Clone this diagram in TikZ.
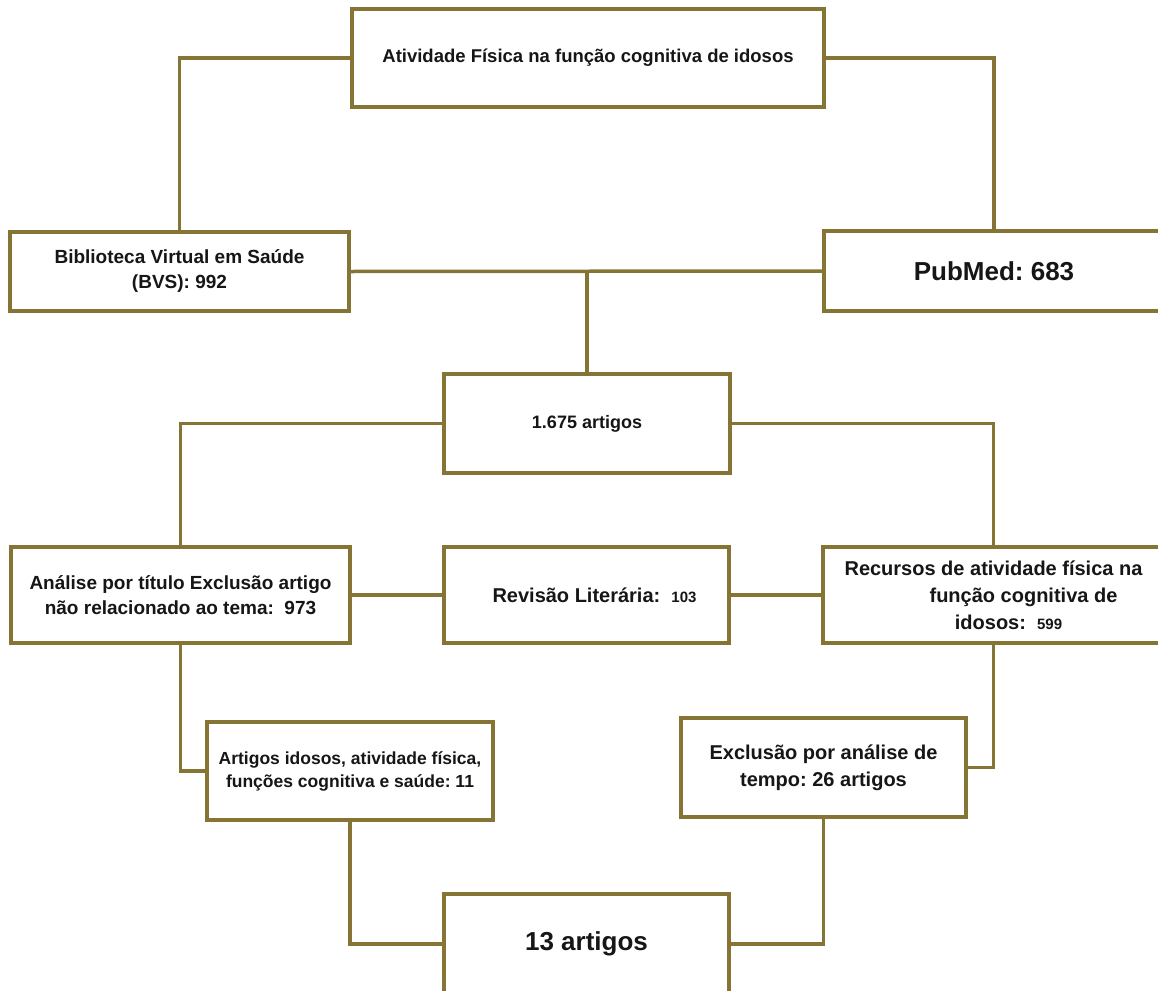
\documentclass[tikz,border=0pt]{standalone}
\usepackage{fontspec}
\setmainfont{Liberation Sans}
\usetikzlibrary{positioning,calc}
\definecolor{borda}{RGB}{134,116,52}
\definecolor{texto}{RGB}{22,22,22}
\frenchspacing

\begin{document}
\begin{tikzpicture}
    [
    x=1pt, y=-1pt,
    caixa/.style={
      draw=borda, line width=3.5pt, fill=white,
      inner sep=0pt, align=center, text=texto,
      font=\bfseries\fontsize{19}{25}\selectfont
      },
    ligacao/.style={
      draw=borda, line width=3.5pt
      }
    ]
    \def\menor{\fontsize{15}{15}\selectfont}
    \useasboundingbox (0,0) rectangle (1158,990);
    \clip (0,0) rectangle (1158,990);

    % First, the search and the two databases
    \node[caixa, minimum width=472pt, minimum height=98pt,
          font=\bfseries\fontsize{18.5}{24}\selectfont] (tema) at (588,58)
         {Atividade Física na função cognitiva de idosos};
    \node[caixa, minimum width=339pt, minimum height=79pt] (bvs) at (179.5,271.5)
         {Biblioteca Virtual em Saúde\\(BVS): 992};
    \node[caixa, minimum width=340pt, minimum height=80pt,
          font=\bfseries\fontsize{26}{30}\selectfont] (pubmed) at (994,271)
         {PubMed: 683};

    % Then the screening row
    \node[caixa, minimum width=286pt, minimum height=99pt,
          font=\bfseries\fontsize{18}{24}\selectfont] (total) at (587,423.5)
         {1.675 artigos};
    \node[caixa, minimum width=339pt, minimum height=96pt] (analise) at (180.5,595)
         {Análise por título Exclusão artigo\\não relacionado ao tema: \ 973};
    \node[caixa, minimum width=285pt, minimum height=96pt,
          font=\bfseries\fontsize{20}{27}\selectfont] (revisao) at (586.5,595)
         {\hspace*{16pt}Revisão Literária: \ {\menor 103}};
    \node[caixa, minimum width=341pt, minimum height=96pt,
          font=\bfseries\fontsize{20}{27}\selectfont] (recursos) at (993.5,595)
         {Recursos de atividade física na\\
          \hspace*{60pt}função cognitiva de\\
          \hspace*{30pt}idosos: \ {\menor 599}};

    % Last, the selected articles
    \node[caixa, minimum width=286pt, minimum height=98pt,
          font=\bfseries\fontsize{17.5}{23}\selectfont] (artigos) at (350,771)
         {Artigos idosos, atividade física,\\funções cognitiva e saúde: 11};
    \node[caixa, minimum width=285pt, minimum height=99pt,
          font=\bfseries\fontsize{20}{27}\selectfont] (exclusao) at (823.5,767.5)
         {Exclusão por análise de\\tempo: 26 artigos};
    \node[caixa, minimum width=285pt, minimum height=100pt,
          font=\bfseries\fontsize{26}{30}\selectfont] (final) at (586.5,944)
         {13 artigos};

    % Draw the connectors
    \draw[ligacao] (tema.west) -| (bvs.north);
    \draw[ligacao] (tema.east) -| (pubmed.north);
    \draw[ligacao] (bvs.east) -- (pubmed.west);
    \draw[ligacao] (total.north) -- (total.north |- bvs.east);
    \draw[ligacao] (total.west) -| (analise.north);
    \draw[ligacao] (total.east) -| (recursos.north);
    \draw[ligacao] (analise.east) -- (revisao.west);
    \draw[ligacao] (revisao.east) -- (recursos.west);
    \draw[ligacao] (analise.south) |- (artigos.west);
    \draw[ligacao] (recursos.south) |- (exclusao.east);
    \draw[ligacao] (artigos.south) |- (final.west);
    \draw[ligacao] (exclusao.south) |- (final.east);
\end{tikzpicture}
\end{document}
